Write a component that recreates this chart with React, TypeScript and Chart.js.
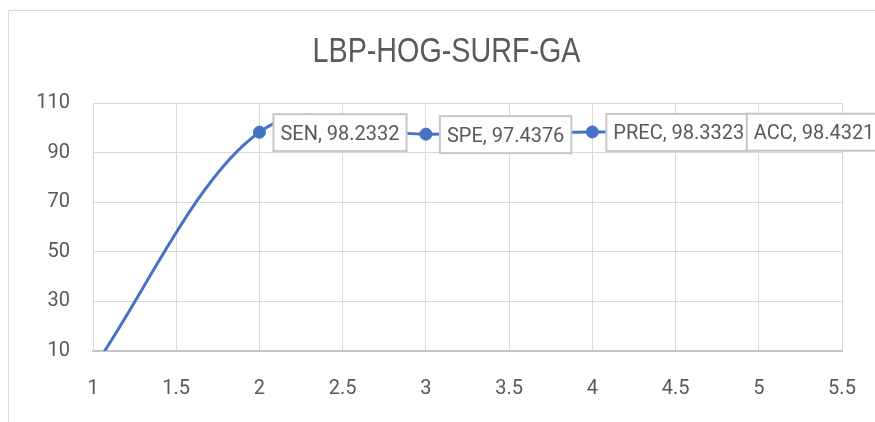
import React, { useEffect, useRef } from "react";
import { Chart, registerables } from "chart.js";

Chart.register(...registerables);

const chartTitle = "LBP-HOG-SURF-GA";
const xValues = [1, 2, 3, 4, 5];
const yValues = [3, 98.2332, 97.4376, 98.3323, 98.4321];
const pointNames = ["", "SEN", "SPE", "PREC", "ACC"];
const xTickRange = { min: 1, max: 5.5, step: 0.5 };
const yTickRange = { min: 10, max: 110, step: 20 };

const TEXT = "#595959";
const BLUE = "#4472C4";

const framePlugin = {
  id: "frame",
  beforeDraw(chart: any) {
    const ctx = chart.ctx;
    ctx.save();
    ctx.fillStyle = "#ffffff";
    ctx.fillRect(0, 0, chart.width, chart.height);
    ctx.strokeStyle = "#d9d9d9";
    ctx.lineWidth = 1;
    ctx.beginPath();
    ctx.moveTo(8.5, chart.height);
    ctx.lineTo(8.5, 10.5);
    ctx.lineTo(chart.width, 10.5);
    ctx.stroke();
    ctx.fillStyle = TEXT;
    ctx.font = "35px 'Liberation Sans', Arial, sans-serif";
    ctx.textAlign = "center";
    ctx.textBaseline = "alphabetic";
    ctx.translate(446.5, 62);
    ctx.scale(0.82, 1);
    ctx.fillText(chartTitle, 0, 0);
    ctx.restore();
  },
};

const labelPlugin = {
  id: "boxLabels",
  afterDatasetsDraw(chart: any) {
    const ctx = chart.ctx;
    const meta = chart.getDatasetMeta(1);
    const area = chart.chartArea;
    ctx.save();
    ctx.font = "20px Roboto";
    ctx.textBaseline = "alphabetic";
    ctx.textAlign = "left";
    meta.data.forEach((pt: any, i: number) => {
      const name = pointNames[i];
      if (!name) return;
      if (pt.y < area.top || pt.y > area.bottom) return;
      const text = `${name}, ${yValues[i]}`;
      const w = ctx.measureText(text).width + 14;
      let left = pt.x + 14;
      if (left + w > chart.width) left = pt.x - 12;
      const top = pt.y - 18;
      const h = 37;
      ctx.fillStyle = "#ffffff";
      ctx.fillRect(left, top, w, h);
      ctx.strokeStyle = "#c6c6c6";
      ctx.lineWidth = 2;
      ctx.strokeRect(left, top, w, h);
      ctx.fillStyle = TEXT;
      ctx.fillText(text, left + 7, pt.y + 7.5);
    });
    ctx.restore();
  },
};

export default function App() {
  const ref = useRef<HTMLCanvasElement | null>(null);

  useEffect(() => {
    if (!ref.current) return;
    const points = xValues.map((x, i) => ({ x, y: yValues[i] }));
    const chart = new Chart(ref.current, {
      type: "line",
      data: {
        datasets: [
          {
            data: points,
            borderColor: BLUE,
            borderWidth: 3,
            tension: 0.3,
            pointRadius: 0,
            fill: false,
            segment: {
              borderColor: (c: any) => (c.p0DataIndex === 0 ? BLUE : "rgba(0,0,0,0)"),
            },
          },
          {
            data: points,
            borderColor: BLUE,
            backgroundColor: BLUE,
            borderWidth: 3,
            tension: 0.456,
            pointRadius: 6,
            pointBorderWidth: 1,
            pointBackgroundColor: BLUE,
            pointBorderColor: BLUE,
            fill: false,
            segment: {
              borderColor: (c: any) => (c.p0DataIndex === 0 ? "rgba(0,0,0,0)" : BLUE),
            },
          },
        ],
      },
      options: {
        responsive: false,
        animation: false,
        events: [],
        elements: { line: { capBezierPoints: false } },
        layout: { padding: { top: 103, right: 33, left: 0, bottom: 0 } },
        plugins: {
          legend: { display: false },
          tooltip: { enabled: false },
          title: { display: false },
        },
        scales: {
          x: {
            type: "linear",
            min: xTickRange.min,
            max: xTickRange.max,
            afterFit: (s: any) => {
              s.height = 71;
              s.paddingLeft = 0;
              s.paddingRight = 0;
            },
            ticks: {
              stepSize: xTickRange.step,
              autoSkip: false,
              color: TEXT,
              font: { family: "Roboto", size: 20 },
              padding: 26,
              maxRotation: 0,
              callback: (v: any) => `${v}`,
            },
            grid: { color: "#d9d9d9", lineWidth: 1, drawTicks: false },
            border: { color: "#c4c4c4", width: 2 },
          },
          y: {
            type: "linear",
            min: yTickRange.min,
            max: yTickRange.max,
            afterFit: (s: any) => {
              s.width = 93;
              s.paddingTop = 0;
              s.paddingBottom = 0;
            },
            ticks: {
              stepSize: yTickRange.step,
              color: TEXT,
              font: { family: "Roboto", size: 20 },
              padding: 23,
              callback: (v: any) => `${v}`,
            },
            grid: { color: "#d9d9d9", lineWidth: 1, drawTicks: false },
            border: { color: "#d9d9d9", width: 1 },
          },
        },
      },
      plugins: [framePlugin, labelPlugin],
    });
    return () => chart.destroy();
  }, []);

  return (
    <canvas
      ref={ref}
      width={875}
      height={422}
      style={{ position: "fixed", left: 0, top: 0, width: 875, height: 422 }}
    />
  );
}
